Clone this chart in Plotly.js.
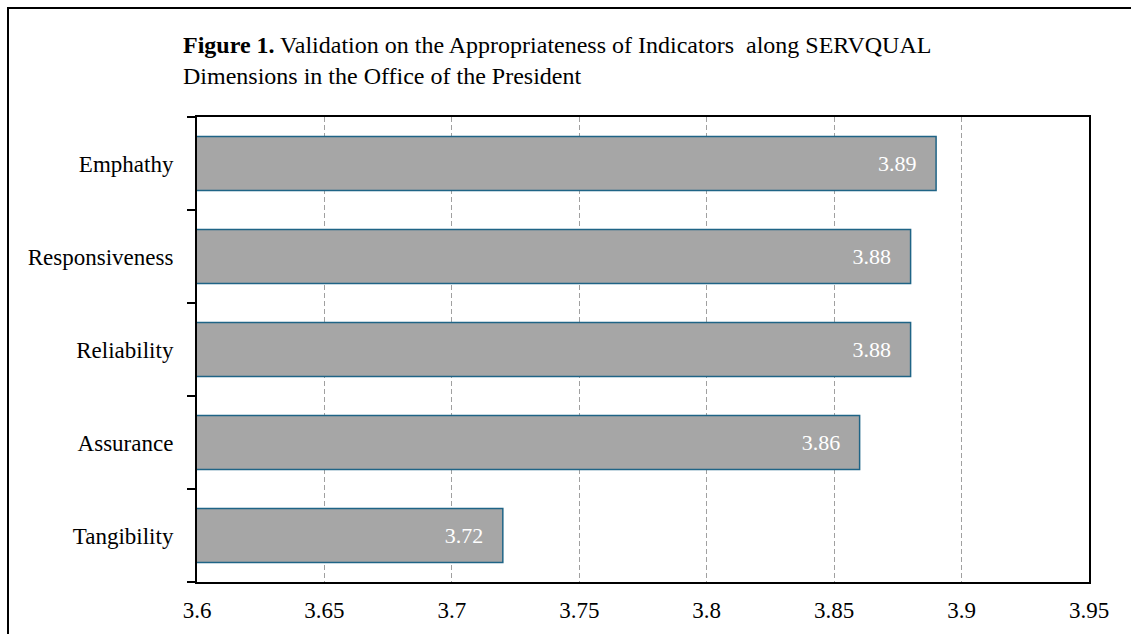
<!DOCTYPE html>
<html>
<head>
<meta charset="utf-8">
<script src="https://cdn.plot.ly/plotly-3.0.1.min.js"></script>
<style>
  body { margin: 0; background: #fff; }
  #frame { position: absolute; left: 7px; top: 7px; width: 1200px; height: 700px;
           border-left: 2px solid #000; border-top: 2px solid #000; pointer-events: none; }
</style>
</head>
<body>
<div id="chart" style="width:1131px;height:634px;"></div>
<div id="frame"></div>
<script>
var dimensions = ['Tangibility', 'Assurance', 'Reliability', 'Responsiveness', 'Emphathy'];
var means = [3.72, 3.86, 3.88, 3.88, 3.89];
var xTicks = [3.6, 3.65, 3.7, 3.75, 3.8, 3.85, 3.9, 3.95];

var serif = 'Liberation Serif, Times New Roman, serif';

var trace = {
  type: 'bar',
  orientation: 'h',
  x: means,
  y: dimensions,
  text: means.map(v => v.toFixed(2) + '   '),
  textposition: 'inside',
  insidetextanchor: 'end',
  textfont: { family: serif, size: 22, color: '#ffffff' },
  marker: { color: '#a6a6a6', line: { color: '#1f6486', width: 1.5 } },
  hoverinfo: 'none'
};

var layout = {
  width: 1131,
  height: 634,
  margin: { l: 197, r: 42, t: 117, b: 52 },
  paper_bgcolor: '#fff',
  plot_bgcolor: '#fff',
  bargap: 0.42,
  showlegend: false,
  font: { family: serif, size: 23, color: '#000' },
  title: {
    text: '<b>Figure 1.</b> Validation on the Appropriateness of Indicators  along SERVQUAL<br>Dimensions in the Office of the President',
    font: { family: serif, size: 24, color: '#000' },
    xref: 'container', x: 183 / 1131, xanchor: 'left',
    yref: 'container', y: 1 - 53 / 634, yanchor: 'top'
  },
  xaxis: {
    range: [3.6, 3.95],
    tickvals: xTicks,
    ticktext: xTicks.map(String),
    ticks: '',
    showgrid: true,
    gridcolor: '#a0a0a0',
    griddash: '5px,3px',
    gridwidth: 1,
    zeroline: false,
    showline: true,
    linecolor: '#000',
    linewidth: 2,
    mirror: true,
    ticklabelstandoff: 6,
    tickfont: { family: serif, size: 23 }
  },
  yaxis: {
    type: 'category',
    ticks: 'outside',
    tickson: 'boundaries',
    ticklen: 8,
    tickwidth: 2,
    tickcolor: '#000',
    showgrid: false,
    showline: true,
    linecolor: '#000',
    linewidth: 2,
    mirror: true,
    ticklabelstandoff: 17,
    tickfont: { family: serif, size: 23 }
  }
};

Plotly.newPlot('chart', [trace], layout, { displayModeBar: false, staticPlot: true });
</script>
</body>
</html>
